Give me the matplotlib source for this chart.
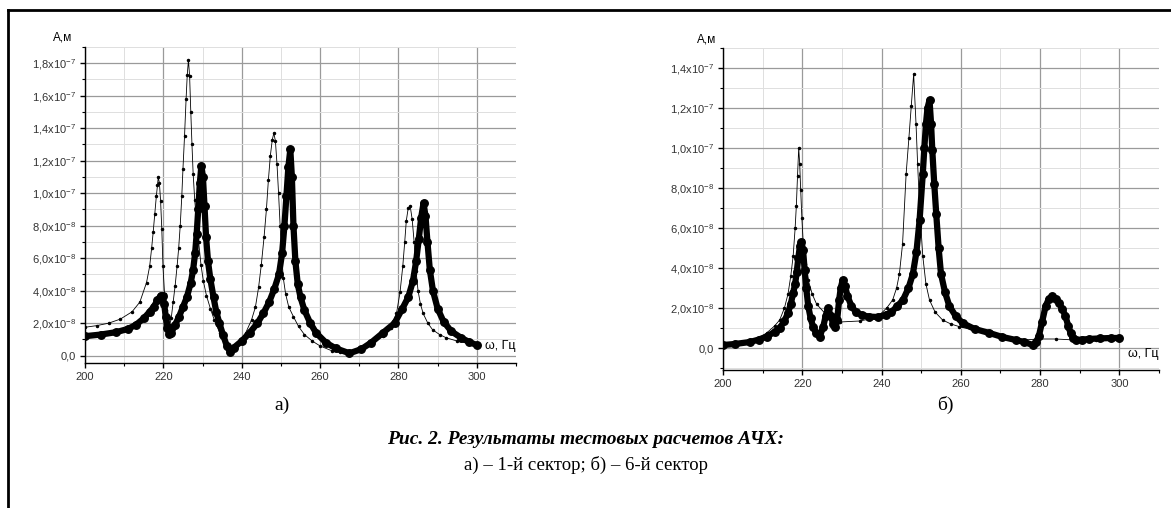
#
# plot.py: two amplitude-frequency response charts (sector 1 and sector 6)
#

import matplotlib
matplotlib.use('Agg')
import matplotlib.pyplot as plt
from matplotlib.lines import Line2D
from matplotlib.ticker import MultipleLocator, FuncFormatter

plt.rcParams['font.family'] = 'Liberation Sans'
plt.rcParams['mathtext.fontset'] = 'custom'
plt.rcParams['mathtext.rm'] = 'Liberation Sans'

SCALE = 1e-8

#chart a): thin (dotted) response, amplitude in 1e-8 m
leftThinFreq = [200, 203, 206, 209, 212, 214, 215.7, 216.5, 217, 217.4, 217.8, 218.2, 218.5, 218.7,
                219.0, 219.3, 219.6, 219.9, 220.3, 220.7, 221.2, 221.6, 222.0, 222.5, 223.0, 223.5,
                223.9, 224.3, 224.7, 225.0, 225.4, 225.8, 226.1, 226.4, 226.7, 227.0, 227.3, 227.6,
                228.0, 228.5, 229.0, 229.6, 230.2, 231, 232, 233, 234.4, 236, 237, 238, 239.5, 241,
                242.5, 243.5, 244.3, 245, 245.7, 246.3, 246.8, 247.3, 247.8, 248.2, 248.6, 249.0,
                249.4, 249.8, 250.2, 250.6, 251.2, 252, 253.2, 254.5, 256, 258, 260, 263, 265, 267.5,
                270, 273, 276, 278, 279.5, 280.4, 281.1, 281.6, 282, 282.5, 283, 283.5, 284, 284.5,
                285, 285.6, 286.3, 287.5, 288.7, 290.5, 292.2, 295, 298, 300]
leftThinAmp = [1.75, 1.85, 2.0, 2.25, 2.7, 3.3, 4.5, 5.5, 6.6, 7.6, 8.7, 9.8, 10.5, 11.0,
               10.6, 9.5, 7.8, 5.5, 3.8, 2.8, 2.1, 1.9, 2.3, 3.3, 4.3, 5.5,
               6.6, 8.0, 9.8, 11.5, 13.5, 15.8, 17.3, 18.2, 17.2, 15.0, 13.0, 11.2,
               9.6, 8.2, 7.0, 5.6, 4.6, 3.7, 2.9, 2.2, 1.4, 0.6, 0.25, 0.5, 0.9, 1.4,
               2.2, 3.0, 4.2, 5.6, 7.3, 9.0, 10.8, 12.3, 13.3, 13.7, 13.2, 11.8,
               10.0, 8.0, 6.2, 4.8, 3.8, 3.0, 2.4, 1.8, 1.3, 0.9, 0.6, 0.3, 0.2, 0.1,
               0.35, 0.7, 1.2, 1.7, 2.6, 3.9, 5.5, 7.0, 8.3, 9.1, 9.2, 8.4, 7.0, 5.2,
               4.0, 3.2, 2.6, 2.0, 1.6, 1.3, 1.1, 0.9, 0.75, 0.7]

#chart a): thick (bold markers) response
leftThickFreq = [200, 204, 208, 211, 213, 215, 216.5, 217.5, 218.5, 219.3, 219.8, 220.2, 220.6, 221,
                 221.5, 222, 223, 224, 225, 226, 227, 227.6, 228.1, 228.5, 228.9, 229.3, 229.7,
                 230.1, 230.5, 230.9, 231.4, 232, 232.8, 233.5, 234.3, 235.2, 236.2, 237, 238, 240,
                 242, 244, 245.5, 247, 248.3, 249.5, 250.3, 250.9, 251.4, 251.9, 252.4, 252.8, 253.2,
                 253.7, 254.3, 255, 256, 257.5, 259, 261.5, 264, 267.5, 270.5, 273, 276, 279, 281,
                 282.5, 283.7, 284.5, 285.2, 285.8, 286.4, 286.9, 287.4, 288, 288.8, 290, 291.5,
                 293.5, 296, 298, 300]
leftThickAmp = [1.2, 1.3, 1.45, 1.65, 1.9, 2.3, 2.7, 3.0, 3.4, 3.7, 3.65, 3.2, 2.4, 1.7,
                1.35, 1.4, 1.9, 2.4, 3.0, 3.6, 4.5, 5.3, 6.3, 7.5, 9.0, 10.6, 11.7,
                11.0, 9.2, 7.3, 5.8, 4.7, 3.6, 2.7, 2.0, 1.3, 0.6, 0.25, 0.5, 0.9,
                1.4, 2.0, 2.6, 3.3, 4.1, 5.0, 6.3, 8.0, 9.8, 11.6, 12.7, 11.0, 8.0,
                5.8, 4.4, 3.6, 2.8, 2.0, 1.4, 0.8, 0.45, 0.15, 0.4, 0.8, 1.4, 2.0, 2.9,
                3.6, 4.6, 5.8, 7.2, 8.5, 9.4, 8.6, 7.0, 5.3, 4.0, 2.9, 2.1,
                1.5, 1.1, 0.85, 0.65]

#chart б): thin response
rightThinFreq = [200, 203, 206.8, 209, 211, 213, 214.3, 215.5, 216.4, 217.1, 217.7, 218.2, 218.5,
                 218.8, 219.1, 219.35, 219.6, 219.9, 220.2, 220.8, 221.5, 222.5, 223.6, 226.1, 229.4,
                 234.5, 237, 239.5, 241.3, 242.8, 243.8, 244.5, 245.3, 246.2, 246.9, 247.5, 248.1,
                 248.7, 249.1, 249.6, 250.4, 251.2, 252.1, 253.5, 255.4, 257.5, 259.6, 263, 267.2,
                 271, 275.6, 279.7, 283.9, 288.9, 294, 300]
rightThinAmp = [0.1, 0.2, 0.3, 0.5, 0.75, 1.1, 1.4, 2.0, 2.7, 3.6, 4.6, 6.0, 7.1,
                8.6, 10.0, 9.2, 7.9, 6.5, 5.4, 4.2, 3.4, 2.7, 2.2, 1.65, 1.3,
                1.35, 1.45, 1.65, 2.0, 2.4, 3.0, 3.7, 5.2, 8.7, 10.5, 12.1, 13.7,
                11.2, 9.2, 7.1, 4.6, 3.2, 2.4, 1.8, 1.4, 1.2, 1.07, 0.9, 0.75,
                0.55, 0.4, 0.45, 0.45, 0.4, 0.4, 0.4]

#chart б): thick response
rightThickFreq = [200, 203, 206.8, 209, 211, 213, 214.3, 215.5, 216.4, 217.1, 217.7, 218.2, 218.6,
                  219, 219.4, 219.8, 220.2, 220.6, 221, 221.5, 222.1, 222.7, 223.5, 224.4, 225.3,
                  225.9, 226.5, 227.2, 227.8, 228.3, 228.8, 229.3, 229.7, 230.2, 230.8, 231.4, 232.4,
                  233.5, 235, 236.8, 239, 241, 242.5, 244, 245.4, 246.8, 247.9, 248.8, 249.6, 250.4,
                  250.8, 251.2, 251.6, 252.1, 252.5, 252.8, 253.3, 253.8, 254.4, 255, 256, 257.1,
                  258.7, 260.5, 263.5, 267.2, 270.5, 273.9, 276, 278.1, 279, 279.7, 280.5, 281.4,
                  282.2, 283.1, 284, 284.8, 285.6, 286.4, 287.1, 287.7, 288.3, 289, 290.5, 292.3,
                  295, 298, 300]
rightThickAmp = [0.15, 0.2, 0.3, 0.42, 0.57, 0.8, 1.0, 1.35, 1.75, 2.2, 2.75, 3.2, 3.8,
                 4.5, 5.1, 5.3, 4.9, 3.9, 3.0, 2.1, 1.5, 1.07, 0.75, 0.57, 1.07,
                 1.6, 2.0, 1.6, 1.2, 1.05, 1.4, 2.4, 3.0, 3.4, 3.1, 2.6, 2.1,
                 1.8, 1.65, 1.57, 1.55, 1.65, 1.8, 2.1, 2.4, 3.0, 3.7, 4.8, 6.4, 8.7,
                 10.0, 11.2, 12.0, 12.4, 11.2, 9.9, 8.2, 6.7, 5.0, 3.7, 2.8, 2.1,
                 1.6, 1.24, 0.95, 0.75, 0.55, 0.4, 0.3, 0.15, 0.3, 0.6, 1.3, 2.1,
                 2.45, 2.6, 2.45, 2.25, 1.95, 1.6, 1.1, 0.75, 0.5, 0.4, 0.42, 0.45,
                 0.48, 0.5, 0.5]

leftYTicks = [0, 2, 4, 6, 8, 10, 12, 14, 16, 18]
rightYTicks = [0, 2, 4, 6, 8, 10, 12, 14]


#tick label like "1,8x10^-7" with decimal comma
def fmtAmp(v, pos):
    if abs(v) < 1e-12:
        return '0,0'
    exp = -7 if v >= 0.999e-7 else -8
    mant = ('%.1f' % (v / 10.0**exp)).replace('.', ',')
    return mant + 'x$\\mathregular{10^{%d}}$' % exp


def setupAxes(ax, yTicks, yMin, yMax):
    ax.set_xlim(200, 310)
    ax.set_ylim(yMin * SCALE, yMax * SCALE)
    for side in ['top', 'right']:
        ax.spines[side].set_visible(False)
    for side in ['left', 'bottom']:
        ax.spines[side].set_linewidth(1.0)
    ax.set_xticks([200, 220, 240, 260, 280, 300])
    ax.xaxis.set_minor_locator(MultipleLocator(10))
    ax.set_yticks([t * SCALE for t in yTicks])
    ax.yaxis.set_minor_locator(MultipleLocator(SCALE))
    ax.yaxis.set_major_formatter(FuncFormatter(fmtAmp))
    ax.tick_params(which='major', direction='out', length=3.5, width=1, labelsize=8,
                   labelcolor='#333333', pad=3)
    ax.tick_params(which='minor', direction='out', length=2, width=0.8)
    ax.grid(which='major', color='#9a9a9a', lw=0.9)
    ax.grid(which='minor', color='#dedede', lw=0.7)
    ax.set_axisbelow(True)


def drawSeries(ax, thinF, thinA, thickF, thickA):
    ax.plot(thinF, [a * SCALE for a in thinA], color='black', lw=0.6,
            marker='o', ms=1.5, zorder=3)
    ax.plot(thickF, [a * SCALE for a in thickA], color='black', lw=4.5,
            marker='o', ms=5.4, solid_capstyle='round', zorder=4)


W, H = 1171.0, 508.0
fig = plt.figure(figsize=(W / 100, H / 100), dpi=100)

#left chart a)
axL = fig.add_axes([85 / W, 1 - 363 / H, 431 / W, 316 / H])
setupAxes(axL, leftYTicks, -0.45, 19.0)
drawSeries(axL, leftThinFreq, leftThinAmp, leftThickFreq, leftThickAmp)
axL.text(310, 0.6 * SCALE, 'ω, Гц', ha='right', va='center', fontsize=9)
fig.text(63 / W, 1 - 37 / H, 'А,м', ha='center', va='center', fontsize=8.5)

#right chart б)
axR = fig.add_axes([723 / W, 1 - 370 / H, 436 / W, 322 / H])
setupAxes(axR, rightYTicks, -1.1, 15.0)
drawSeries(axR, rightThinFreq, rightThinAmp, rightThickFreq, rightThickAmp)
axR.text(310, -0.3 * SCALE, 'ω, Гц', ha='right', va='center', fontsize=9)
fig.text(707 / W, 1 - 40 / H, 'А,м', ha='center', va='center', fontsize=8.5)

#document frame (left and top border)
fig.add_artist(Line2D([8 / W, 8 / W], [0, 1 - 10 / H], transform=fig.transFigure,
                      color='black', lw=2))
fig.add_artist(Line2D([8 / W, 1], [1 - 10 / H, 1 - 10 / H], transform=fig.transFigure,
                      color='black', lw=2))

#captions
fig.text(282 / W, 1 - 405 / H, 'а)', ha='center', va='center', fontsize=14,
         family='Liberation Serif')
fig.text(945 / W, 1 - 405 / H, 'б)', ha='center', va='center', fontsize=14,
         family='Liberation Serif')
fig.text(586 / W, 1 - 440 / H, 'Рис. 2. Результаты тестовых расчетов АЧХ:', ha='center',
         va='center', fontsize=14, family='Liberation Serif', weight='bold', style='italic')
fig.text(586 / W, 1 - 465 / H, 'а) – 1-й сектор; б) – 6-й сектор', ha='center', va='center',
         fontsize=13.5, family='Liberation Serif')

fig.savefig('out.png', dpi=100)
